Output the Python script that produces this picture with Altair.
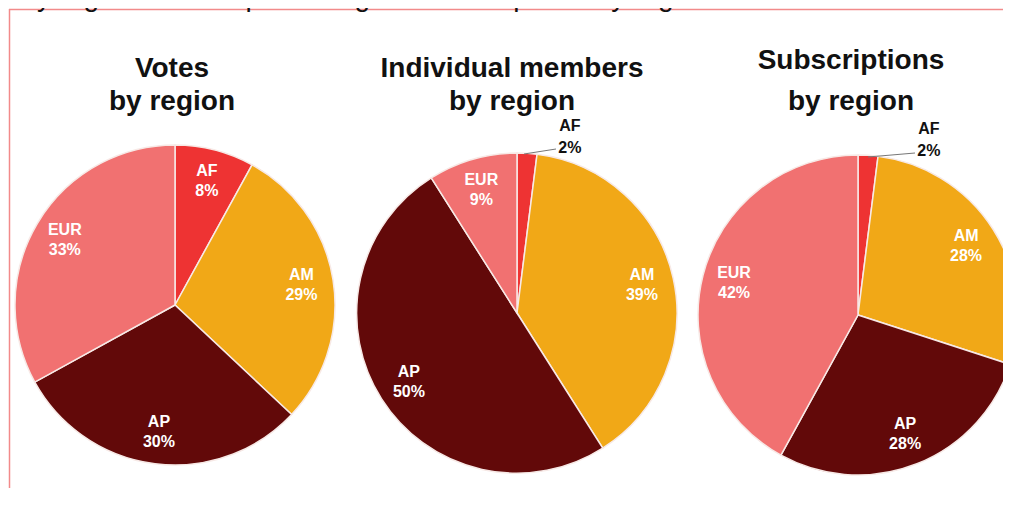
import altair as alt
import pandas as pd

# ---- data ----
regions = ["AF", "AM", "AP", "EUR"]
votes = [8, 29, 30, 33]
members = [2, 39, 50, 9]
subscriptions = [2, 28, 28, 42]
titles = ["Votes\nby region", "Individual members\nby region", "Subscriptions\nby region"]
caption = "e by region and the percentage of subscriptions by region."

series = [votes, members, subscriptions]

# ---- layout / style ----
W, H = 995, 480
R = 160
centers = [(167, 297), (509, 305), (850, 307)]
title_pos = [(164, 69, 33), (504, 69, 33), (843, 61, 41)]
outside_offsets = [(0, 0), (41, 3), (59, 4)]
leaders = [None, (516, 146, 548, 141), (860, 149, 907, 145)]
colors = ["#EE3333", "#F1A817", "#620909", "#F17171"]
FONT = "Liberation Sans"

color_scale = alt.Scale(domain=regions, range=colors)

layers = []
for i, vals in enumerate(series):
    cx, cy = centers[i]
    df = pd.DataFrame({"region": regions, "value": vals})
    df["ord"] = range(len(regions))
    df["inside"] = [f"{r}\n{v}%" if v >= 5 else "" for r, v in zip(regions, vals)]
    df["outside"] = [f"{r}\n{v}%" if v < 5 else "" for r, v in zip(regions, vals)]
    base = alt.Chart(df)
    theta = alt.Theta("value:Q", stack=True)
    order = alt.Order("ord:Q")
    arcs = base.mark_arc(outerRadius=R, stroke="#F7E9E6", strokeWidth=1.5).encode(
        theta=theta,
        color=alt.Color("region:N", scale=color_scale, legend=None),
        order=order,
        x=alt.value(cx), y=alt.value(cy),
    )
    inner = base.mark_text(radius=128, dy=-10, font=FONT, fontSize=16, fontWeight="bold",
                           color="white", lineBreak="\n", lineHeight=20,
                           align="center", baseline="middle").encode(
        theta=theta, text="inside:N", order=order, detail="region:N",
        x=alt.value(cx), y=alt.value(cy),
    )
    layers += [arcs, inner]
    if leaders[i] is not None:
        dx, dy = outside_offsets[i]
        outer = base.mark_text(radius=190, dx=dx, dy=dy, font=FONT, fontSize=16,
                               fontWeight="bold", color="#111111", lineBreak="\n",
                               lineHeight=22, align="center", baseline="middle").encode(
            theta=theta, text="outside:N", order=order, detail="region:N",
            x=alt.value(cx), y=alt.value(cy),
        )
        x1, y1, x2, y2 = leaders[i]
        lead = alt.Chart(pd.DataFrame({"k": [0]})).mark_rule(
            color="#777777", strokeWidth=1).encode(
            x=alt.value(x1), y=alt.value(y1), x2=alt.value(x2), y2=alt.value(y2))
        layers += [lead, outer]
    tx, ty, lh = title_pos[i]
    title = alt.Chart(pd.DataFrame({"t": [titles[i]]})).mark_text(
        font=FONT, fontSize=28, fontWeight="bold", color="#111111",
        lineBreak="\n", lineHeight=lh, align="center", baseline="alphabetic").encode(
        text="t:N", x=alt.value(tx), y=alt.value(ty))
    layers.append(title)

# frame border
dummy = pd.DataFrame({"k": [0]})
top_rule = alt.Chart(dummy).mark_rule(color="#F28A8A", strokeWidth=1.5).encode(
    x=alt.value(1), x2=alt.value(1003), y=alt.value(1.5), y2=alt.value(1.5))
left_rule = alt.Chart(dummy).mark_rule(color="#F28A8A", strokeWidth=1.5).encode(
    x=alt.value(1.5), x2=alt.value(1.5), y=alt.value(1), y2=alt.value(498))
cap = alt.Chart(pd.DataFrame({"t": [caption]})).mark_text(
    font=FONT, fontSize=28, color="#111111", align="left", baseline="alphabetic").encode(
    text="t:N", x=alt.value(-10), y=alt.value(-2))

chart = alt.layer(top_rule, left_rule, cap, *layers).properties(
    width=W, height=H, padding=0, autosize=alt.AutoSizeParams(type="none"),
    background="white",
).configure_view(stroke=None)

chart.save("out.html", embed_options={"renderer": "svg", "actions": False})
